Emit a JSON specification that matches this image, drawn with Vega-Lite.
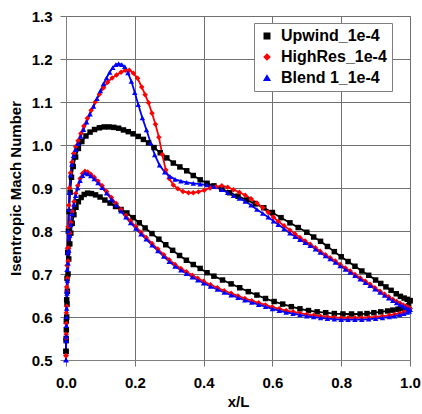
{
"$schema":"https://vega.github.io/schema/vega-lite/v6.json",
"width":344,"height":344,
"autosize":{"type":"none"},
"padding":{"left":66,"top":16,"right":12,"bottom":54},
"background":"white",
"config":{
 "view":{"stroke":"#a0a0a0","strokeWidth":1},
 "axis":{"labelFont":"Liberation Sans","labelFontWeight":"bold","labelFontSize":15,"labelColor":"#000000","titleFont":"Liberation Sans","titleFontWeight":"bold","titleFontSize":15,"titleColor":"#000000","gridColor":"#707070","gridOpacity":1,"gridWidth":1,"domainColor":"#808080","tickColor":"#707070","tickSize":6,"labelFlush":false},
 "legend":{"labelFont":"Liberation Sans","labelFontWeight":"bold","labelFontSize":16,"labelColor":"#000000"}
},
"data":{"values":[
{"s":"U","f":"u","x":0,"y":0.52},{"s":"U","f":"u","x":0.0005,"y":0.55},{"s":"U","f":"u","x":0.001,"y":0.59},{"s":"U","f":"u","x":0.002,"y":0.64},{"s":"U","f":"u","x":0.003,"y":0.69},{"s":"U","f":"u","x":0.005,"y":0.75},{"s":"U","f":"u","x":0.007,"y":0.80},{"s":"U","f":"u","x":0.009,"y":0.845},{"s":"U","f":"u","x":0.012,"y":0.89},{"s":"U","f":"u","x":0.016,"y":0.925},{"s":"U","f":"u","x":0.021,"y":0.95},{"s":"U","f":"u","x":0.028,"y":0.972},{"s":"U","f":"u","x":0.036,"y":0.992},{"s":"U","f":"u","x":0.046,"y":1.008},{"s":"U","f":"u","x":0.058,"y":1.021},{"s":"U","f":"u","x":0.07,"y":1.03},{"s":"U","f":"u","x":0.083,"y":1.036},{"s":"U","f":"u","x":0.097,"y":1.04},{"s":"U","f":"u","x":0.111,"y":1.042},{"s":"U","f":"u","x":0.125,"y":1.042},{"s":"U","f":"u","x":0.139,"y":1.041},{"s":"U","f":"u","x":0.153,"y":1.039},{"s":"U","f":"u","x":0.167,"y":1.035},{"s":"U","f":"u","x":0.181,"y":1.031},{"s":"U","f":"u","x":0.195,"y":1.026},{"s":"U","f":"u","x":0.21,"y":1.02},{"s":"U","f":"u","x":0.225,"y":1.013},{"s":"U","f":"u","x":0.24,"y":1.005},{"s":"U","f":"u","x":0.256,"y":0.994},{"s":"U","f":"u","x":0.274,"y":0.982},{"s":"U","f":"u","x":0.293,"y":0.97},{"s":"U","f":"u","x":0.312,"y":0.958},{"s":"U","f":"u","x":0.331,"y":0.949},{"s":"U","f":"u","x":0.351,"y":0.94},{"s":"U","f":"u","x":0.37,"y":0.929},{"s":"U","f":"u","x":0.39,"y":0.919},{"s":"U","f":"u","x":0.41,"y":0.911},{"s":"U","f":"u","x":0.43,"y":0.905},{"s":"U","f":"u","x":0.453,"y":0.898},{"s":"U","f":"u","x":0.476,"y":0.889},{"s":"U","f":"u","x":0.5,"y":0.881},{"s":"U","f":"u","x":0.525,"y":0.872},{"s":"U","f":"u","x":0.55,"y":0.863},{"s":"U","f":"u","x":0.575,"y":0.854},{"s":"U","f":"u","x":0.6,"y":0.843},{"s":"U","f":"u","x":0.625,"y":0.831},{"s":"U","f":"u","x":0.651,"y":0.819},{"s":"U","f":"u","x":0.675,"y":0.808},{"s":"U","f":"u","x":0.7,"y":0.797},{"s":"U","f":"u","x":0.72,"y":0.786},{"s":"U","f":"u","x":0.74,"y":0.776},{"s":"U","f":"u","x":0.76,"y":0.764},{"s":"U","f":"u","x":0.78,"y":0.752},{"s":"U","f":"u","x":0.8,"y":0.74},{"s":"U","f":"u","x":0.82,"y":0.729},{"s":"U","f":"u","x":0.84,"y":0.718},{"s":"U","f":"u","x":0.86,"y":0.707},{"s":"U","f":"u","x":0.88,"y":0.697},{"s":"U","f":"u","x":0.9,"y":0.686},{"s":"U","f":"u","x":0.915,"y":0.678},{"s":"U","f":"u","x":0.93,"y":0.67},{"s":"U","f":"u","x":0.945,"y":0.662},{"s":"U","f":"u","x":0.96,"y":0.654},{"s":"U","f":"u","x":0.972,"y":0.648},{"s":"U","f":"u","x":0.983,"y":0.644},{"s":"U","f":"u","x":0.992,"y":0.641},{"s":"U","f":"u","x":1.0,"y":0.638},
{"s":"U","f":"l","x":0,"y":0.52},{"s":"U","f":"l","x":0.0005,"y":0.545},{"s":"U","f":"l","x":0.001,"y":0.57},{"s":"U","f":"l","x":0.002,"y":0.60},{"s":"U","f":"l","x":0.003,"y":0.63},{"s":"U","f":"l","x":0.004,"y":0.66},{"s":"U","f":"l","x":0.006,"y":0.70},{"s":"U","f":"l","x":0.008,"y":0.735},{"s":"U","f":"l","x":0.011,"y":0.77},{"s":"U","f":"l","x":0.014,"y":0.795},{"s":"U","f":"l","x":0.018,"y":0.818},{"s":"U","f":"l","x":0.023,"y":0.838},{"s":"U","f":"l","x":0.029,"y":0.855},{"s":"U","f":"l","x":0.036,"y":0.868},{"s":"U","f":"l","x":0.044,"y":0.878},{"s":"U","f":"l","x":0.053,"y":0.885},{"s":"U","f":"l","x":0.063,"y":0.888},{"s":"U","f":"l","x":0.074,"y":0.887},{"s":"U","f":"l","x":0.086,"y":0.884},{"s":"U","f":"l","x":0.099,"y":0.879},{"s":"U","f":"l","x":0.113,"y":0.872},{"s":"U","f":"l","x":0.128,"y":0.865},{"s":"U","f":"l","x":0.144,"y":0.857},{"s":"U","f":"l","x":0.16,"y":0.85},{"s":"U","f":"l","x":0.177,"y":0.842},{"s":"U","f":"l","x":0.195,"y":0.831},{"s":"U","f":"l","x":0.213,"y":0.819},{"s":"U","f":"l","x":0.23,"y":0.807},{"s":"U","f":"l","x":0.25,"y":0.794},{"s":"U","f":"l","x":0.27,"y":0.781},{"s":"U","f":"l","x":0.29,"y":0.768},{"s":"U","f":"l","x":0.31,"y":0.755},{"s":"U","f":"l","x":0.33,"y":0.743},{"s":"U","f":"l","x":0.35,"y":0.732},{"s":"U","f":"l","x":0.37,"y":0.722},{"s":"U","f":"l","x":0.39,"y":0.713},{"s":"U","f":"l","x":0.41,"y":0.703},{"s":"U","f":"l","x":0.43,"y":0.695},{"s":"U","f":"l","x":0.455,"y":0.686},{"s":"U","f":"l","x":0.48,"y":0.677},{"s":"U","f":"l","x":0.505,"y":0.668},{"s":"U","f":"l","x":0.53,"y":0.659},{"s":"U","f":"l","x":0.555,"y":0.651},{"s":"U","f":"l","x":0.58,"y":0.643},{"s":"U","f":"l","x":0.605,"y":0.636},{"s":"U","f":"l","x":0.63,"y":0.63},{"s":"U","f":"l","x":0.655,"y":0.624},{"s":"U","f":"l","x":0.68,"y":0.619},{"s":"U","f":"l","x":0.705,"y":0.615},{"s":"U","f":"l","x":0.73,"y":0.612},{"s":"U","f":"l","x":0.755,"y":0.61},{"s":"U","f":"l","x":0.78,"y":0.608},{"s":"U","f":"l","x":0.805,"y":0.607},{"s":"U","f":"l","x":0.83,"y":0.607},{"s":"U","f":"l","x":0.855,"y":0.607},{"s":"U","f":"l","x":0.875,"y":0.608},{"s":"U","f":"l","x":0.895,"y":0.61},{"s":"U","f":"l","x":0.915,"y":0.612},{"s":"U","f":"l","x":0.935,"y":0.614},{"s":"U","f":"l","x":0.95,"y":0.616},{"s":"U","f":"l","x":0.965,"y":0.618},{"s":"U","f":"l","x":0.978,"y":0.62},{"s":"U","f":"l","x":0.988,"y":0.622},{"s":"U","f":"l","x":0.996,"y":0.626},{"s":"U","f":"l","x":1.0,"y":0.638},
{"s":"H","f":"u","x":0,"y":0.51},{"s":"H","f":"u","x":0.0005,"y":0.56},{"s":"H","f":"u","x":0.001,"y":0.61},{"s":"H","f":"u","x":0.002,"y":0.67},{"s":"H","f":"u","x":0.003,"y":0.72},{"s":"H","f":"u","x":0.004,"y":0.76},{"s":"H","f":"u","x":0.006,"y":0.81},{"s":"H","f":"u","x":0.008,"y":0.86},{"s":"H","f":"u","x":0.01,"y":0.9},{"s":"H","f":"u","x":0.013,"y":0.935},{"s":"H","f":"u","x":0.017,"y":0.96},{"s":"H","f":"u","x":0.022,"y":0.98},{"s":"H","f":"u","x":0.028,"y":0.996},{"s":"H","f":"u","x":0.035,"y":1.01},{"s":"H","f":"u","x":0.043,"y":1.027},{"s":"H","f":"u","x":0.052,"y":1.044},{"s":"H","f":"u","x":0.062,"y":1.062},{"s":"H","f":"u","x":0.073,"y":1.081},{"s":"H","f":"u","x":0.085,"y":1.1},{"s":"H","f":"u","x":0.097,"y":1.118},{"s":"H","f":"u","x":0.109,"y":1.133},{"s":"H","f":"u","x":0.121,"y":1.146},{"s":"H","f":"u","x":0.134,"y":1.156},{"s":"H","f":"u","x":0.147,"y":1.163},{"s":"H","f":"u","x":0.16,"y":1.169},{"s":"H","f":"u","x":0.172,"y":1.174},{"s":"H","f":"u","x":0.184,"y":1.174},{"s":"H","f":"u","x":0.196,"y":1.167},{"s":"H","f":"u","x":0.208,"y":1.155},{"s":"H","f":"u","x":0.22,"y":1.135},{"s":"H","f":"u","x":0.23,"y":1.117},{"s":"H","f":"u","x":0.24,"y":1.098},{"s":"H","f":"u","x":0.25,"y":1.074},{"s":"H","f":"u","x":0.26,"y":1.048},{"s":"H","f":"u","x":0.27,"y":1.018},{"s":"H","f":"u","x":0.28,"y":0.978},{"s":"H","f":"u","x":0.29,"y":0.942},{"s":"H","f":"u","x":0.3,"y":0.922},{"s":"H","f":"u","x":0.312,"y":0.907},{"s":"H","f":"u","x":0.325,"y":0.898},{"s":"H","f":"u","x":0.34,"y":0.892},{"s":"H","f":"u","x":0.356,"y":0.889},{"s":"H","f":"u","x":0.37,"y":0.889},{"s":"H","f":"u","x":0.385,"y":0.891},{"s":"H","f":"u","x":0.402,"y":0.895},{"s":"H","f":"u","x":0.419,"y":0.9},{"s":"H","f":"u","x":0.436,"y":0.903},{"s":"H","f":"u","x":0.453,"y":0.905},{"s":"H","f":"u","x":0.47,"y":0.902},{"s":"H","f":"u","x":0.487,"y":0.896},{"s":"H","f":"u","x":0.504,"y":0.89},{"s":"H","f":"u","x":0.521,"y":0.883},{"s":"H","f":"u","x":0.538,"y":0.875},{"s":"H","f":"u","x":0.555,"y":0.865},{"s":"H","f":"u","x":0.572,"y":0.854},{"s":"H","f":"u","x":0.588,"y":0.843},{"s":"H","f":"u","x":0.603,"y":0.832},{"s":"H","f":"u","x":0.617,"y":0.822},{"s":"H","f":"u","x":0.634,"y":0.812},{"s":"H","f":"u","x":0.651,"y":0.802},{"s":"H","f":"u","x":0.666,"y":0.793},{"s":"H","f":"u","x":0.68,"y":0.785},{"s":"H","f":"u","x":0.695,"y":0.777},{"s":"H","f":"u","x":0.71,"y":0.769},{"s":"H","f":"u","x":0.725,"y":0.761},{"s":"H","f":"u","x":0.739,"y":0.753},{"s":"H","f":"u","x":0.754,"y":0.745},{"s":"H","f":"u","x":0.768,"y":0.738},{"s":"H","f":"u","x":0.783,"y":0.73},{"s":"H","f":"u","x":0.797,"y":0.722},{"s":"H","f":"u","x":0.812,"y":0.714},{"s":"H","f":"u","x":0.826,"y":0.707},{"s":"H","f":"u","x":0.84,"y":0.699},{"s":"H","f":"u","x":0.855,"y":0.691},{"s":"H","f":"u","x":0.87,"y":0.683},{"s":"H","f":"u","x":0.884,"y":0.676},{"s":"H","f":"u","x":0.898,"y":0.668},{"s":"H","f":"u","x":0.913,"y":0.66},{"s":"H","f":"u","x":0.926,"y":0.653},{"s":"H","f":"u","x":0.938,"y":0.647},{"s":"H","f":"u","x":0.95,"y":0.641},{"s":"H","f":"u","x":0.961,"y":0.636},{"s":"H","f":"u","x":0.971,"y":0.632},{"s":"H","f":"u","x":0.98,"y":0.628},{"s":"H","f":"u","x":0.988,"y":0.625},{"s":"H","f":"u","x":0.995,"y":0.622},{"s":"H","f":"u","x":1.0,"y":0.62},
{"s":"H","f":"l","x":0,"y":0.51},{"s":"H","f":"l","x":0.0005,"y":0.55},{"s":"H","f":"l","x":0.001,"y":0.585},{"s":"H","f":"l","x":0.002,"y":0.625},{"s":"H","f":"l","x":0.003,"y":0.66},{"s":"H","f":"l","x":0.004,"y":0.69},{"s":"H","f":"l","x":0.006,"y":0.73},{"s":"H","f":"l","x":0.008,"y":0.76},{"s":"H","f":"l","x":0.011,"y":0.795},{"s":"H","f":"l","x":0.014,"y":0.82},{"s":"H","f":"l","x":0.018,"y":0.845},{"s":"H","f":"l","x":0.023,"y":0.868},{"s":"H","f":"l","x":0.028,"y":0.887},{"s":"H","f":"l","x":0.034,"y":0.905},{"s":"H","f":"l","x":0.041,"y":0.922},{"s":"H","f":"l","x":0.048,"y":0.934},{"s":"H","f":"l","x":0.055,"y":0.939},{"s":"H","f":"l","x":0.063,"y":0.937},{"s":"H","f":"l","x":0.072,"y":0.932},{"s":"H","f":"l","x":0.082,"y":0.925},{"s":"H","f":"l","x":0.093,"y":0.916},{"s":"H","f":"l","x":0.105,"y":0.905},{"s":"H","f":"l","x":0.118,"y":0.892},{"s":"H","f":"l","x":0.132,"y":0.878},{"s":"H","f":"l","x":0.146,"y":0.864},{"s":"H","f":"l","x":0.16,"y":0.85},{"s":"H","f":"l","x":0.174,"y":0.836},{"s":"H","f":"l","x":0.188,"y":0.823},{"s":"H","f":"l","x":0.203,"y":0.81},{"s":"H","f":"l","x":0.218,"y":0.797},{"s":"H","f":"l","x":0.233,"y":0.785},{"s":"H","f":"l","x":0.25,"y":0.771},{"s":"H","f":"l","x":0.267,"y":0.758},{"s":"H","f":"l","x":0.284,"y":0.745},{"s":"H","f":"l","x":0.3,"y":0.733},{"s":"H","f":"l","x":0.317,"y":0.722},{"s":"H","f":"l","x":0.334,"y":0.713},{"s":"H","f":"l","x":0.35,"y":0.705},{"s":"H","f":"l","x":0.367,"y":0.697},{"s":"H","f":"l","x":0.383,"y":0.69},{"s":"H","f":"l","x":0.4,"y":0.683},{"s":"H","f":"l","x":0.42,"y":0.675},{"s":"H","f":"l","x":0.44,"y":0.668},{"s":"H","f":"l","x":0.46,"y":0.661},{"s":"H","f":"l","x":0.48,"y":0.655},{"s":"H","f":"l","x":0.5,"y":0.649},{"s":"H","f":"l","x":0.52,"y":0.643},{"s":"H","f":"l","x":0.54,"y":0.638},{"s":"H","f":"l","x":0.56,"y":0.633},{"s":"H","f":"l","x":0.58,"y":0.628},{"s":"H","f":"l","x":0.6,"y":0.623},{"s":"H","f":"l","x":0.62,"y":0.619},{"s":"H","f":"l","x":0.64,"y":0.615},{"s":"H","f":"l","x":0.66,"y":0.612},{"s":"H","f":"l","x":0.68,"y":0.609},{"s":"H","f":"l","x":0.7,"y":0.606},{"s":"H","f":"l","x":0.72,"y":0.604},{"s":"H","f":"l","x":0.74,"y":0.602},{"s":"H","f":"l","x":0.76,"y":0.6},{"s":"H","f":"l","x":0.78,"y":0.599},{"s":"H","f":"l","x":0.8,"y":0.598},{"s":"H","f":"l","x":0.82,"y":0.598},{"s":"H","f":"l","x":0.84,"y":0.598},{"s":"H","f":"l","x":0.86,"y":0.598},{"s":"H","f":"l","x":0.88,"y":0.599},{"s":"H","f":"l","x":0.9,"y":0.6},{"s":"H","f":"l","x":0.92,"y":0.602},{"s":"H","f":"l","x":0.94,"y":0.604},{"s":"H","f":"l","x":0.955,"y":0.606},{"s":"H","f":"l","x":0.97,"y":0.609},{"s":"H","f":"l","x":0.982,"y":0.611},{"s":"H","f":"l","x":0.992,"y":0.614},{"s":"H","f":"l","x":0.998,"y":0.616},{"s":"H","f":"l","x":1.0,"y":0.62},
{"s":"B","f":"u","x":0,"y":0.5},{"s":"B","f":"u","x":0.0005,"y":0.555},{"s":"B","f":"u","x":0.001,"y":0.6},{"s":"B","f":"u","x":0.002,"y":0.66},{"s":"B","f":"u","x":0.003,"y":0.71},{"s":"B","f":"u","x":0.004,"y":0.75},{"s":"B","f":"u","x":0.006,"y":0.8},{"s":"B","f":"u","x":0.008,"y":0.85},{"s":"B","f":"u","x":0.01,"y":0.89},{"s":"B","f":"u","x":0.013,"y":0.93},{"s":"B","f":"u","x":0.017,"y":0.955},{"s":"B","f":"u","x":0.022,"y":0.975},{"s":"B","f":"u","x":0.028,"y":0.99},{"s":"B","f":"u","x":0.035,"y":1.003},{"s":"B","f":"u","x":0.043,"y":1.02},{"s":"B","f":"u","x":0.051,"y":1.036},{"s":"B","f":"u","x":0.06,"y":1.053},{"s":"B","f":"u","x":0.07,"y":1.072},{"s":"B","f":"u","x":0.08,"y":1.09},{"s":"B","f":"u","x":0.09,"y":1.108},{"s":"B","f":"u","x":0.1,"y":1.126},{"s":"B","f":"u","x":0.109,"y":1.142},{"s":"B","f":"u","x":0.118,"y":1.156},{"s":"B","f":"u","x":0.127,"y":1.169},{"s":"B","f":"u","x":0.136,"y":1.18},{"s":"B","f":"u","x":0.145,"y":1.187},{"s":"B","f":"u","x":0.153,"y":1.189},{"s":"B","f":"u","x":0.162,"y":1.187},{"s":"B","f":"u","x":0.171,"y":1.182},{"s":"B","f":"u","x":0.18,"y":1.168},{"s":"B","f":"u","x":0.19,"y":1.148},{"s":"B","f":"u","x":0.2,"y":1.122},{"s":"B","f":"u","x":0.21,"y":1.094},{"s":"B","f":"u","x":0.222,"y":1.063},{"s":"B","f":"u","x":0.234,"y":1.035},{"s":"B","f":"u","x":0.246,"y":1.005},{"s":"B","f":"u","x":0.258,"y":0.977},{"s":"B","f":"u","x":0.272,"y":0.953},{"s":"B","f":"u","x":0.287,"y":0.937},{"s":"B","f":"u","x":0.302,"y":0.927},{"s":"B","f":"u","x":0.317,"y":0.92},{"s":"B","f":"u","x":0.334,"y":0.916},{"s":"B","f":"u","x":0.351,"y":0.913},{"s":"B","f":"u","x":0.37,"y":0.911},{"s":"B","f":"u","x":0.39,"y":0.909},{"s":"B","f":"u","x":0.41,"y":0.907},{"s":"B","f":"u","x":0.43,"y":0.903},{"s":"B","f":"u","x":0.453,"y":0.896},{"s":"B","f":"u","x":0.47,"y":0.889},{"s":"B","f":"u","x":0.487,"y":0.882},{"s":"B","f":"u","x":0.504,"y":0.876},{"s":"B","f":"u","x":0.521,"y":0.869},{"s":"B","f":"u","x":0.538,"y":0.86},{"s":"B","f":"u","x":0.555,"y":0.85},{"s":"B","f":"u","x":0.572,"y":0.841},{"s":"B","f":"u","x":0.588,"y":0.832},{"s":"B","f":"u","x":0.603,"y":0.823},{"s":"B","f":"u","x":0.617,"y":0.815},{"s":"B","f":"u","x":0.634,"y":0.805},{"s":"B","f":"u","x":0.651,"y":0.795},{"s":"B","f":"u","x":0.666,"y":0.787},{"s":"B","f":"u","x":0.68,"y":0.78},{"s":"B","f":"u","x":0.695,"y":0.773},{"s":"B","f":"u","x":0.71,"y":0.766},{"s":"B","f":"u","x":0.725,"y":0.758},{"s":"B","f":"u","x":0.739,"y":0.75},{"s":"B","f":"u","x":0.754,"y":0.742},{"s":"B","f":"u","x":0.768,"y":0.735},{"s":"B","f":"u","x":0.783,"y":0.727},{"s":"B","f":"u","x":0.797,"y":0.719},{"s":"B","f":"u","x":0.812,"y":0.711},{"s":"B","f":"u","x":0.826,"y":0.704},{"s":"B","f":"u","x":0.84,"y":0.696},{"s":"B","f":"u","x":0.855,"y":0.688},{"s":"B","f":"u","x":0.87,"y":0.68},{"s":"B","f":"u","x":0.884,"y":0.673},{"s":"B","f":"u","x":0.898,"y":0.665},{"s":"B","f":"u","x":0.913,"y":0.657},{"s":"B","f":"u","x":0.926,"y":0.65},{"s":"B","f":"u","x":0.938,"y":0.644},{"s":"B","f":"u","x":0.95,"y":0.638},{"s":"B","f":"u","x":0.961,"y":0.633},{"s":"B","f":"u","x":0.971,"y":0.629},{"s":"B","f":"u","x":0.98,"y":0.625},{"s":"B","f":"u","x":0.988,"y":0.622},{"s":"B","f":"u","x":0.995,"y":0.619},{"s":"B","f":"u","x":1.0,"y":0.617},
{"s":"B","f":"l","x":0,"y":0.5},{"s":"B","f":"l","x":0.0005,"y":0.545},{"s":"B","f":"l","x":0.001,"y":0.58},{"s":"B","f":"l","x":0.002,"y":0.62},{"s":"B","f":"l","x":0.003,"y":0.655},{"s":"B","f":"l","x":0.004,"y":0.685},{"s":"B","f":"l","x":0.006,"y":0.725},{"s":"B","f":"l","x":0.008,"y":0.755},{"s":"B","f":"l","x":0.011,"y":0.79},{"s":"B","f":"l","x":0.014,"y":0.815},{"s":"B","f":"l","x":0.018,"y":0.84},{"s":"B","f":"l","x":0.023,"y":0.862},{"s":"B","f":"l","x":0.028,"y":0.882},{"s":"B","f":"l","x":0.034,"y":0.9},{"s":"B","f":"l","x":0.041,"y":0.917},{"s":"B","f":"l","x":0.048,"y":0.929},{"s":"B","f":"l","x":0.055,"y":0.935},{"s":"B","f":"l","x":0.063,"y":0.933},{"s":"B","f":"l","x":0.072,"y":0.928},{"s":"B","f":"l","x":0.082,"y":0.921},{"s":"B","f":"l","x":0.093,"y":0.912},{"s":"B","f":"l","x":0.105,"y":0.901},{"s":"B","f":"l","x":0.118,"y":0.888},{"s":"B","f":"l","x":0.132,"y":0.874},{"s":"B","f":"l","x":0.146,"y":0.86},{"s":"B","f":"l","x":0.16,"y":0.846},{"s":"B","f":"l","x":0.174,"y":0.832},{"s":"B","f":"l","x":0.188,"y":0.819},{"s":"B","f":"l","x":0.203,"y":0.806},{"s":"B","f":"l","x":0.218,"y":0.793},{"s":"B","f":"l","x":0.233,"y":0.781},{"s":"B","f":"l","x":0.25,"y":0.767},{"s":"B","f":"l","x":0.267,"y":0.754},{"s":"B","f":"l","x":0.284,"y":0.741},{"s":"B","f":"l","x":0.3,"y":0.729},{"s":"B","f":"l","x":0.317,"y":0.718},{"s":"B","f":"l","x":0.334,"y":0.709},{"s":"B","f":"l","x":0.35,"y":0.701},{"s":"B","f":"l","x":0.367,"y":0.693},{"s":"B","f":"l","x":0.383,"y":0.686},{"s":"B","f":"l","x":0.4,"y":0.679},{"s":"B","f":"l","x":0.42,"y":0.671},{"s":"B","f":"l","x":0.44,"y":0.664},{"s":"B","f":"l","x":0.46,"y":0.657},{"s":"B","f":"l","x":0.48,"y":0.651},{"s":"B","f":"l","x":0.5,"y":0.645},{"s":"B","f":"l","x":0.52,"y":0.639},{"s":"B","f":"l","x":0.54,"y":0.634},{"s":"B","f":"l","x":0.56,"y":0.629},{"s":"B","f":"l","x":0.58,"y":0.624},{"s":"B","f":"l","x":0.6,"y":0.619},{"s":"B","f":"l","x":0.62,"y":0.615},{"s":"B","f":"l","x":0.64,"y":0.611},{"s":"B","f":"l","x":0.66,"y":0.608},{"s":"B","f":"l","x":0.68,"y":0.605},{"s":"B","f":"l","x":0.7,"y":0.602},{"s":"B","f":"l","x":0.72,"y":0.6},{"s":"B","f":"l","x":0.74,"y":0.598},{"s":"B","f":"l","x":0.76,"y":0.596},{"s":"B","f":"l","x":0.78,"y":0.595},{"s":"B","f":"l","x":0.8,"y":0.594},{"s":"B","f":"l","x":0.82,"y":0.594},{"s":"B","f":"l","x":0.84,"y":0.594},{"s":"B","f":"l","x":0.86,"y":0.594},{"s":"B","f":"l","x":0.88,"y":0.595},{"s":"B","f":"l","x":0.9,"y":0.596},{"s":"B","f":"l","x":0.92,"y":0.598},{"s":"B","f":"l","x":0.94,"y":0.6},{"s":"B","f":"l","x":0.955,"y":0.602},{"s":"B","f":"l","x":0.97,"y":0.605},{"s":"B","f":"l","x":0.982,"y":0.608},{"s":"B","f":"l","x":0.992,"y":0.611},{"s":"B","f":"l","x":0.998,"y":0.613},{"s":"B","f":"l","x":1.0,"y":0.617}
]},
"encoding":{
 "x":{"field":"x","type":"quantitative","scale":{"domain":[0,1],"nice":false},"axis":{"title":"x/L","values":[0,0.2,0.4,0.6,0.8,1.0],"format":".1f","grid":true,"labelPadding":9,"titlePadding":4}},
 "y":{"field":"y","type":"quantitative","scale":{"domain":[0.5,1.3],"nice":false,"zero":false},"axis":{"title":"Isentropic Mach Number","values":[0.5,0.6,0.7,0.8,0.9,1.0,1.1,1.2,1.3],"format":".1f","grid":true,"labelPadding":8,"titlePadding":8}},
 "color":{"field":"s","type":"nominal","scale":{"domain":["U","H","B"],"range":["#000000","#FF0000","#0000FF"]},
  "legend":{"title":null,"orient":"none","legendX":188,"legendY":7,"fillColor":"white","strokeColor":"#808080","padding":5,"rowPadding":5,"labelOffset":6,
   "labelExpr":"datum.value == 'U' ? 'Upwind_1e-4' : datum.value == 'H' ? 'HighRes_1e-4' : 'Blend 1_1e-4'"}}
},
"layer":[
 {"mark":{"type":"line","strokeWidth":1.8},"encoding":{"detail":{"field":"f","type":"nominal"}}},
 {"mark":{"type":"point","filled":true,"opacity":1},
  "encoding":{
   "shape":{"field":"s","type":"nominal","scale":{"domain":["U","H","B"],"range":["square","diamond","triangle-up"]},"legend":null},
   "size":{"field":"s","type":"nominal","scale":{"domain":["U","H","B"],"range":[30,30,40]},"legend":null}
  }}
]
}
